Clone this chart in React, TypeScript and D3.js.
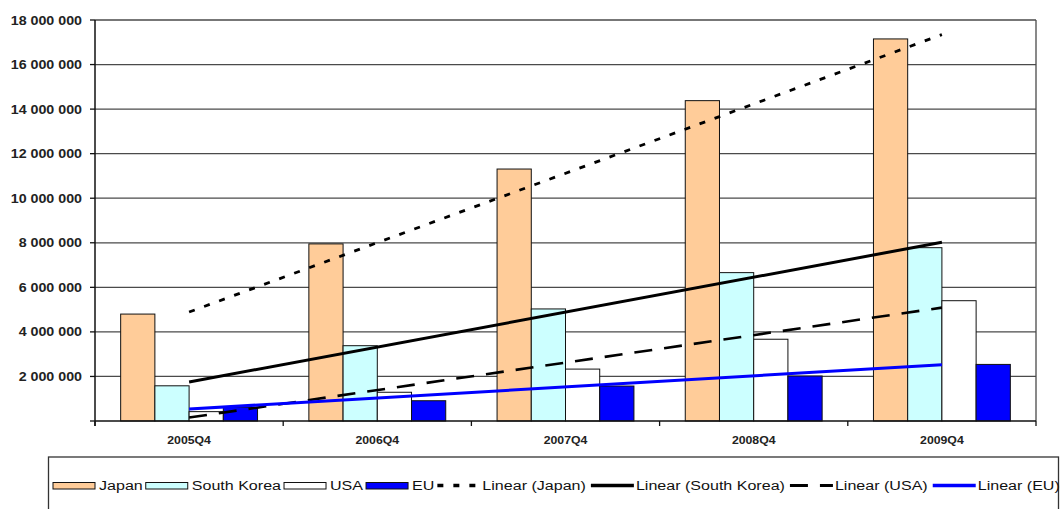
import React, { useEffect, useRef } from "react";
import * as d3 from "d3";

const categories = ["2005Q4", "2006Q4", "2007Q4", "2008Q4", "2009Q4"];
const japan = [4800000, 7950000, 11310000, 14380000, 17150000];
const southKorea = [1580000, 3380000, 5030000, 6660000, 7780000];
const usa = [420000, 1290000, 2330000, 3670000, 5400000];
const eu = [610000, 910000, 1570000, 2020000, 2540000];
const seriesNames = ["Japan", "South Korea", "USA", "EU"];
const seriesColors = ["#FFCC99", "#CCFFFF", "#FFFFFF", "#0000FF"];
const yTicks = [0, 2000000, 4000000, 6000000, 8000000, 10000000, 12000000, 14000000, 16000000, 18000000];
const trendNames = ["Linear (Japan)", "Linear (South Korea)", "Linear (USA)", "Linear (EU)"];
const trendColors = ["#000000", "#000000", "#000000", "#0000FF"];
const trendDash = ["6,10", null, "18,12", null];
const trendWidth = [2.8, 3, 2.6, 3];

const W = 1061;
const H = 509;
const left = 95;
const right = 1036;
const top = 20;
const bottom = 421;
const SX = 1.14;
const LSX = 1.19;

export default function App() {
  const ref = useRef<SVGSVGElement | null>(null);

  useEffect(() => {
    const svg = d3.select(ref.current);
    svg.selectAll("*").remove();
    const font = "'Liberation Sans', Arial, sans-serif";
    const series = [japan, southKorea, usa, eu];

    const x = d3.scaleBand<string>().domain(categories).range([left, right]).paddingInner(0).paddingOuter(0);
    const xi = d3.scaleBand<string>().domain(seriesNames).range([0, x.bandwidth()]).paddingInner(0).paddingOuter(0.75);
    const y = d3.scaleLinear().domain([0, 18000000]).range([bottom, top]);

    // gridlines
    svg.append("g").selectAll("line").data(yTicks.filter((t) => t > 0)).join("line")
      .attr("x1", left).attr("x2", right)
      .attr("y1", (d) => y(d)).attr("y2", (d) => y(d))
      .attr("stroke", "#4a4a4a").attr("stroke-width", 1.3);

    // right border
    svg.append("line").attr("x1", right).attr("x2", right).attr("y1", top).attr("y2", bottom)
      .attr("stroke", "#4a4a4a").attr("stroke-width", 1.3);

    // bars
    series.forEach((vals, si) => {
      svg.append("g").selectAll("rect").data(vals).join("rect")
        .attr("x", (d, i) => (x(categories[i]) as number) + (xi(seriesNames[si]) as number))
        .attr("width", xi.bandwidth())
        .attr("y", (d) => y(d))
        .attr("height", (d) => y(0) - y(d))
        .attr("fill", seriesColors[si])
        .attr("stroke", "#111").attr("stroke-width", 1);
    });

    // axes
    svg.append("line").attr("x1", left).attr("x2", left).attr("y1", top).attr("y2", bottom + 5)
      .attr("stroke", "#111").attr("stroke-width", 1.5);
    svg.append("line").attr("x1", left).attr("x2", right).attr("y1", bottom).attr("y2", bottom)
      .attr("stroke", "#111").attr("stroke-width", 1.5);
    // y tick marks
    svg.append("g").selectAll("line").data(yTicks).join("line")
      .attr("x1", left - 5).attr("x2", left)
      .attr("y1", (d) => y(d)).attr("y2", (d) => y(d))
      .attr("stroke", "#111").attr("stroke-width", 1.3);
    // x tick marks at boundaries
    const bounds = categories.map((c) => x(c) as number).concat([right]);
    svg.append("g").selectAll("line").data(bounds).join("line")
      .attr("x1", (d) => d).attr("x2", (d) => d)
      .attr("y1", bottom).attr("y2", bottom + 5)
      .attr("stroke", "#111").attr("stroke-width", 1.3);

    // y labels
    const fmt = (v: number) => (v === 0 ? "" : d3.format(",")(v).replace(/,/g, " "));
    svg.append("g").selectAll("g").data(yTicks).join("g")
      .attr("transform", (d) => `translate(${left - 13},${y(d)}) scale(${SX},1)`)
      .append("text")
      .attr("text-anchor", "end").attr("dy", "0.36em")
      .attr("font-family", font).attr("font-size", 12.5).attr("font-weight", "bold")
      .attr("fill", "#222")
      .text((d) => fmt(d));

    // x labels
    svg.append("g").selectAll("g").data(categories).join("g")
      .attr("transform", (d) => `translate(${(x(d) as number) + x.bandwidth() / 2},${bottom + 19}) scale(${SX + 0.03},1)`)
      .append("text")
      .attr("text-anchor", "middle").attr("dy", "0.36em")
      .attr("font-family", font).attr("font-size", 10.5).attr("font-weight", "bold")
      .attr("fill", "#222")
      .text((d) => d);

    // trend lines (least squares on x = 1..n)
    series.forEach((vals, si) => {
      const n = vals.length;
      const xs = vals.map((_, i) => i + 1);
      const mx = d3.mean(xs) as number;
      const my = d3.mean(vals) as number;
      const slope = d3.sum(xs.map((xv, i) => (xv - mx) * (vals[i] - my))) / d3.sum(xs.map((xv) => (xv - mx) ** 2));
      const icpt = my - slope * mx;
      const cx = (i: number) => (x(categories[i]) as number) + x.bandwidth() / 2;
      const line = d3.line<number>().x((d) => cx(d)).y((d) => y(icpt + slope * (d + 1)));
      const p = svg.append("path").datum([0, n - 1]).attr("d", line)
        .attr("fill", "none").attr("stroke", trendColors[si]).attr("stroke-width", trendWidth[si]);
      if (trendDash[si]) p.attr("stroke-dasharray", trendDash[si] as string);
    });

    // legend
    svg.append("rect").attr("x", 48.5).attr("y", 457).attr("width", 1010).attr("height", 70)
      .attr("fill", "#fff").attr("stroke", "#333").attr("stroke-width", 1.3);
    const lg = svg.append("g");
    let cx = 53;
    const ly = 485.5;
    const addText = (label: string, xx: number) => {
      const g = lg.append("g").attr("transform", `translate(${xx},${ly}) scale(${LSX},1)`);
      const t = g.append("text").attr("dy", "0.36em").attr("font-family", font).attr("font-size", 13.5)
        .attr("fill", "#111").text(label);
      const w = (t.node() as SVGTextElement).getComputedTextLength() * LSX;
      return w;
    };
    seriesNames.forEach((name, si) => {
      lg.append("rect").attr("x", cx).attr("y", ly - 3).attr("width", 42).attr("height", 6.5)
        .attr("fill", seriesColors[si]).attr("stroke", "#111").attr("stroke-width", 1);
      const w = addText(name, cx + 46);
      cx = cx + 46 + w + 3;
    });
    trendNames.forEach((name, si) => {
      const l = lg.append("line").attr("x1", cx).attr("x2", cx + 43).attr("y1", ly).attr("y2", ly)
        .attr("stroke", trendColors[si]).attr("stroke-width", trendWidth[si] + 0.5);
      if (trendDash[si]) l.attr("stroke-dasharray", trendDash[si] as string);
      const w = addText(name, cx + 45);
      cx = cx + 45 + w + 5;
    });
  }, []);

  return (
    <svg ref={ref} width={W} height={H} style={{ position: "absolute", left: 0, top: 0, background: "#fff" }} />
  );
}
